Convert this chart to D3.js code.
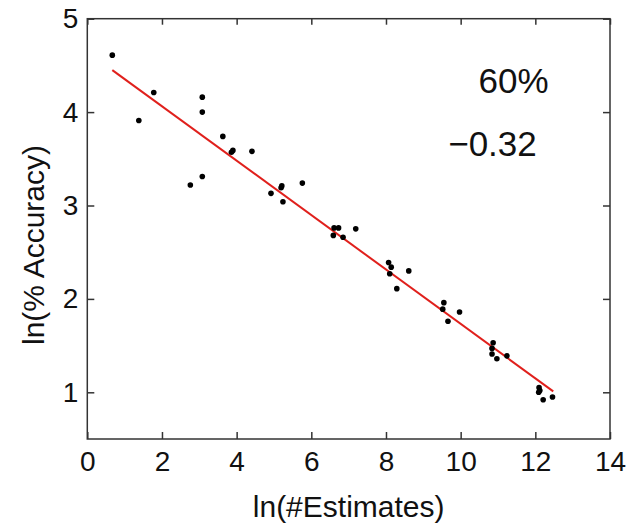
<!DOCTYPE html>
<html>
<head>
<meta charset="utf-8">
<script src="https://cdn.jsdelivr.net/npm/d3@7"></script>
<style>
  html, body { margin: 0; padding: 0; background: #fff; }
  svg { display: block; }
  text { font-family: "Liberation Sans", Arial, sans-serif; fill: #111; }
</style>
</head>
<body>
<script>
// ---- data ----
const xTicks = [0, 2, 4, 6, 8, 10, 12, 14];
const yTicks = [1, 2, 3, 4, 5];
const lnEstimates = [0.67,1.38,1.78,2.76,3.08,3.08,3.08,3.63,3.86,3.90,4.41,4.92,5.19,5.21,5.24,5.76,6.59,6.61,6.73,6.85,7.19,8.07,8.10,8.14,8.29,8.61,9.52,9.55,9.66,9.97,10.84,10.84,10.87,10.97,11.24,12.09,12.10,12.12,12.21,12.46];
const lnAccuracy  = [4.61,3.91,4.21,3.22,4.16,4.00,3.31,3.74,3.57,3.59,3.58,3.13,3.19,3.21,3.04,3.24,2.68,2.76,2.76,2.66,2.75,2.39,2.27,2.34,2.11,2.30,1.89,1.96,1.76,1.86,1.47,1.41,1.53,1.36,1.39,1.00,1.05,1.02,0.92,0.95];
const fitX = [0.67, 12.48];
const fitY = [4.45, 1.01];
const annotations = ["60%", "\u22120.32"];
const xTitle = "ln(#Estimates)";
const yTitle = "ln(% Accuracy)";

// ---- layout ----
const W = 641, H = 528;
const L = 87.3, R = 610, T = 18.7, B = 439;

const svg = d3.select("body").append("svg").attr("width", W).attr("height", H);

const x = d3.scaleLinear().domain([0, 14]).range([L, R]);
const y = d3.scaleLinear().domain([0.5, 5]).range([B, T]);

const axisColor = "#333";

// bottom axis
const gB = svg.append("g").attr("transform", `translate(0,${B})`)
  .call(d3.axisBottom(x).tickValues(xTicks).tickSizeInner(-7).tickSizeOuter(0).tickPadding(12).tickFormat(d3.format("d")));
// left axis
const gL = svg.append("g").attr("transform", `translate(${L},0)`)
  .call(d3.axisLeft(y).tickValues(yTicks).tickSizeInner(-7).tickSizeOuter(0).tickPadding(9).tickFormat(d3.format("d")));
// top axis (ticks only)
const gT = svg.append("g").attr("transform", `translate(0,${T})`)
  .call(d3.axisTop(x).tickValues(xTicks).tickSizeInner(-6).tickSizeOuter(0).tickFormat(""));
// right axis (ticks only)
const gR = svg.append("g").attr("transform", `translate(${R},0)`)
  .call(d3.axisRight(y).tickValues(yTicks).tickSizeInner(-7).tickSizeOuter(0).tickFormat(""));

[gB, gL, gT, gR].forEach(g => {
  g.select(".domain").remove();
  g.selectAll(".tick line").attr("stroke", axisColor).attr("stroke-width", 1.5);
  g.selectAll(".tick text").style("font-family", '"Liberation Sans", Arial, sans-serif').attr("fill", "#111");
});
gB.selectAll(".tick text").attr("font-size", 28);
gL.selectAll(".tick text").attr("font-size", 28);

// frame
svg.append("rect")
  .attr("x", L).attr("y", T).attr("width", R - L).attr("height", B - T)
  .attr("fill", "none").attr("stroke", axisColor).attr("stroke-width", 1.5);

// fit line
svg.append("line")
  .attr("x1", x(fitX[0])).attr("y1", y(fitY[0]))
  .attr("x2", x(fitX[1])).attr("y2", y(fitY[1]))
  .attr("stroke", "#e0201c").attr("stroke-width", 2);

// points
svg.append("g").selectAll("circle")
  .data(lnEstimates.map((v, i) => [v, lnAccuracy[i]]))
  .join("circle")
  .attr("cx", d => x(d[0])).attr("cy", d => y(d[1]))
  .attr("r", 2.8).attr("fill", "#000");

// annotations
svg.append("text").attr("x", 513.5).attr("y", 92.5).attr("text-anchor", "middle")
  .attr("font-size", 35).text(annotations[0]);
svg.append("text").attr("x", 492.5).attr("y", 156).attr("text-anchor", "middle")
  .attr("font-size", 35).text(annotations[1]);

// axis titles
svg.append("text").attr("x", (L + R) / 2).attr("y", 517).attr("text-anchor", "middle")
  .attr("font-size", 30).text(xTitle);
svg.append("text").attr("transform", "translate(44,245) rotate(-90)").attr("text-anchor", "middle")
  .attr("font-size", 30).text(yTitle);
</script>
</body>
</html>
